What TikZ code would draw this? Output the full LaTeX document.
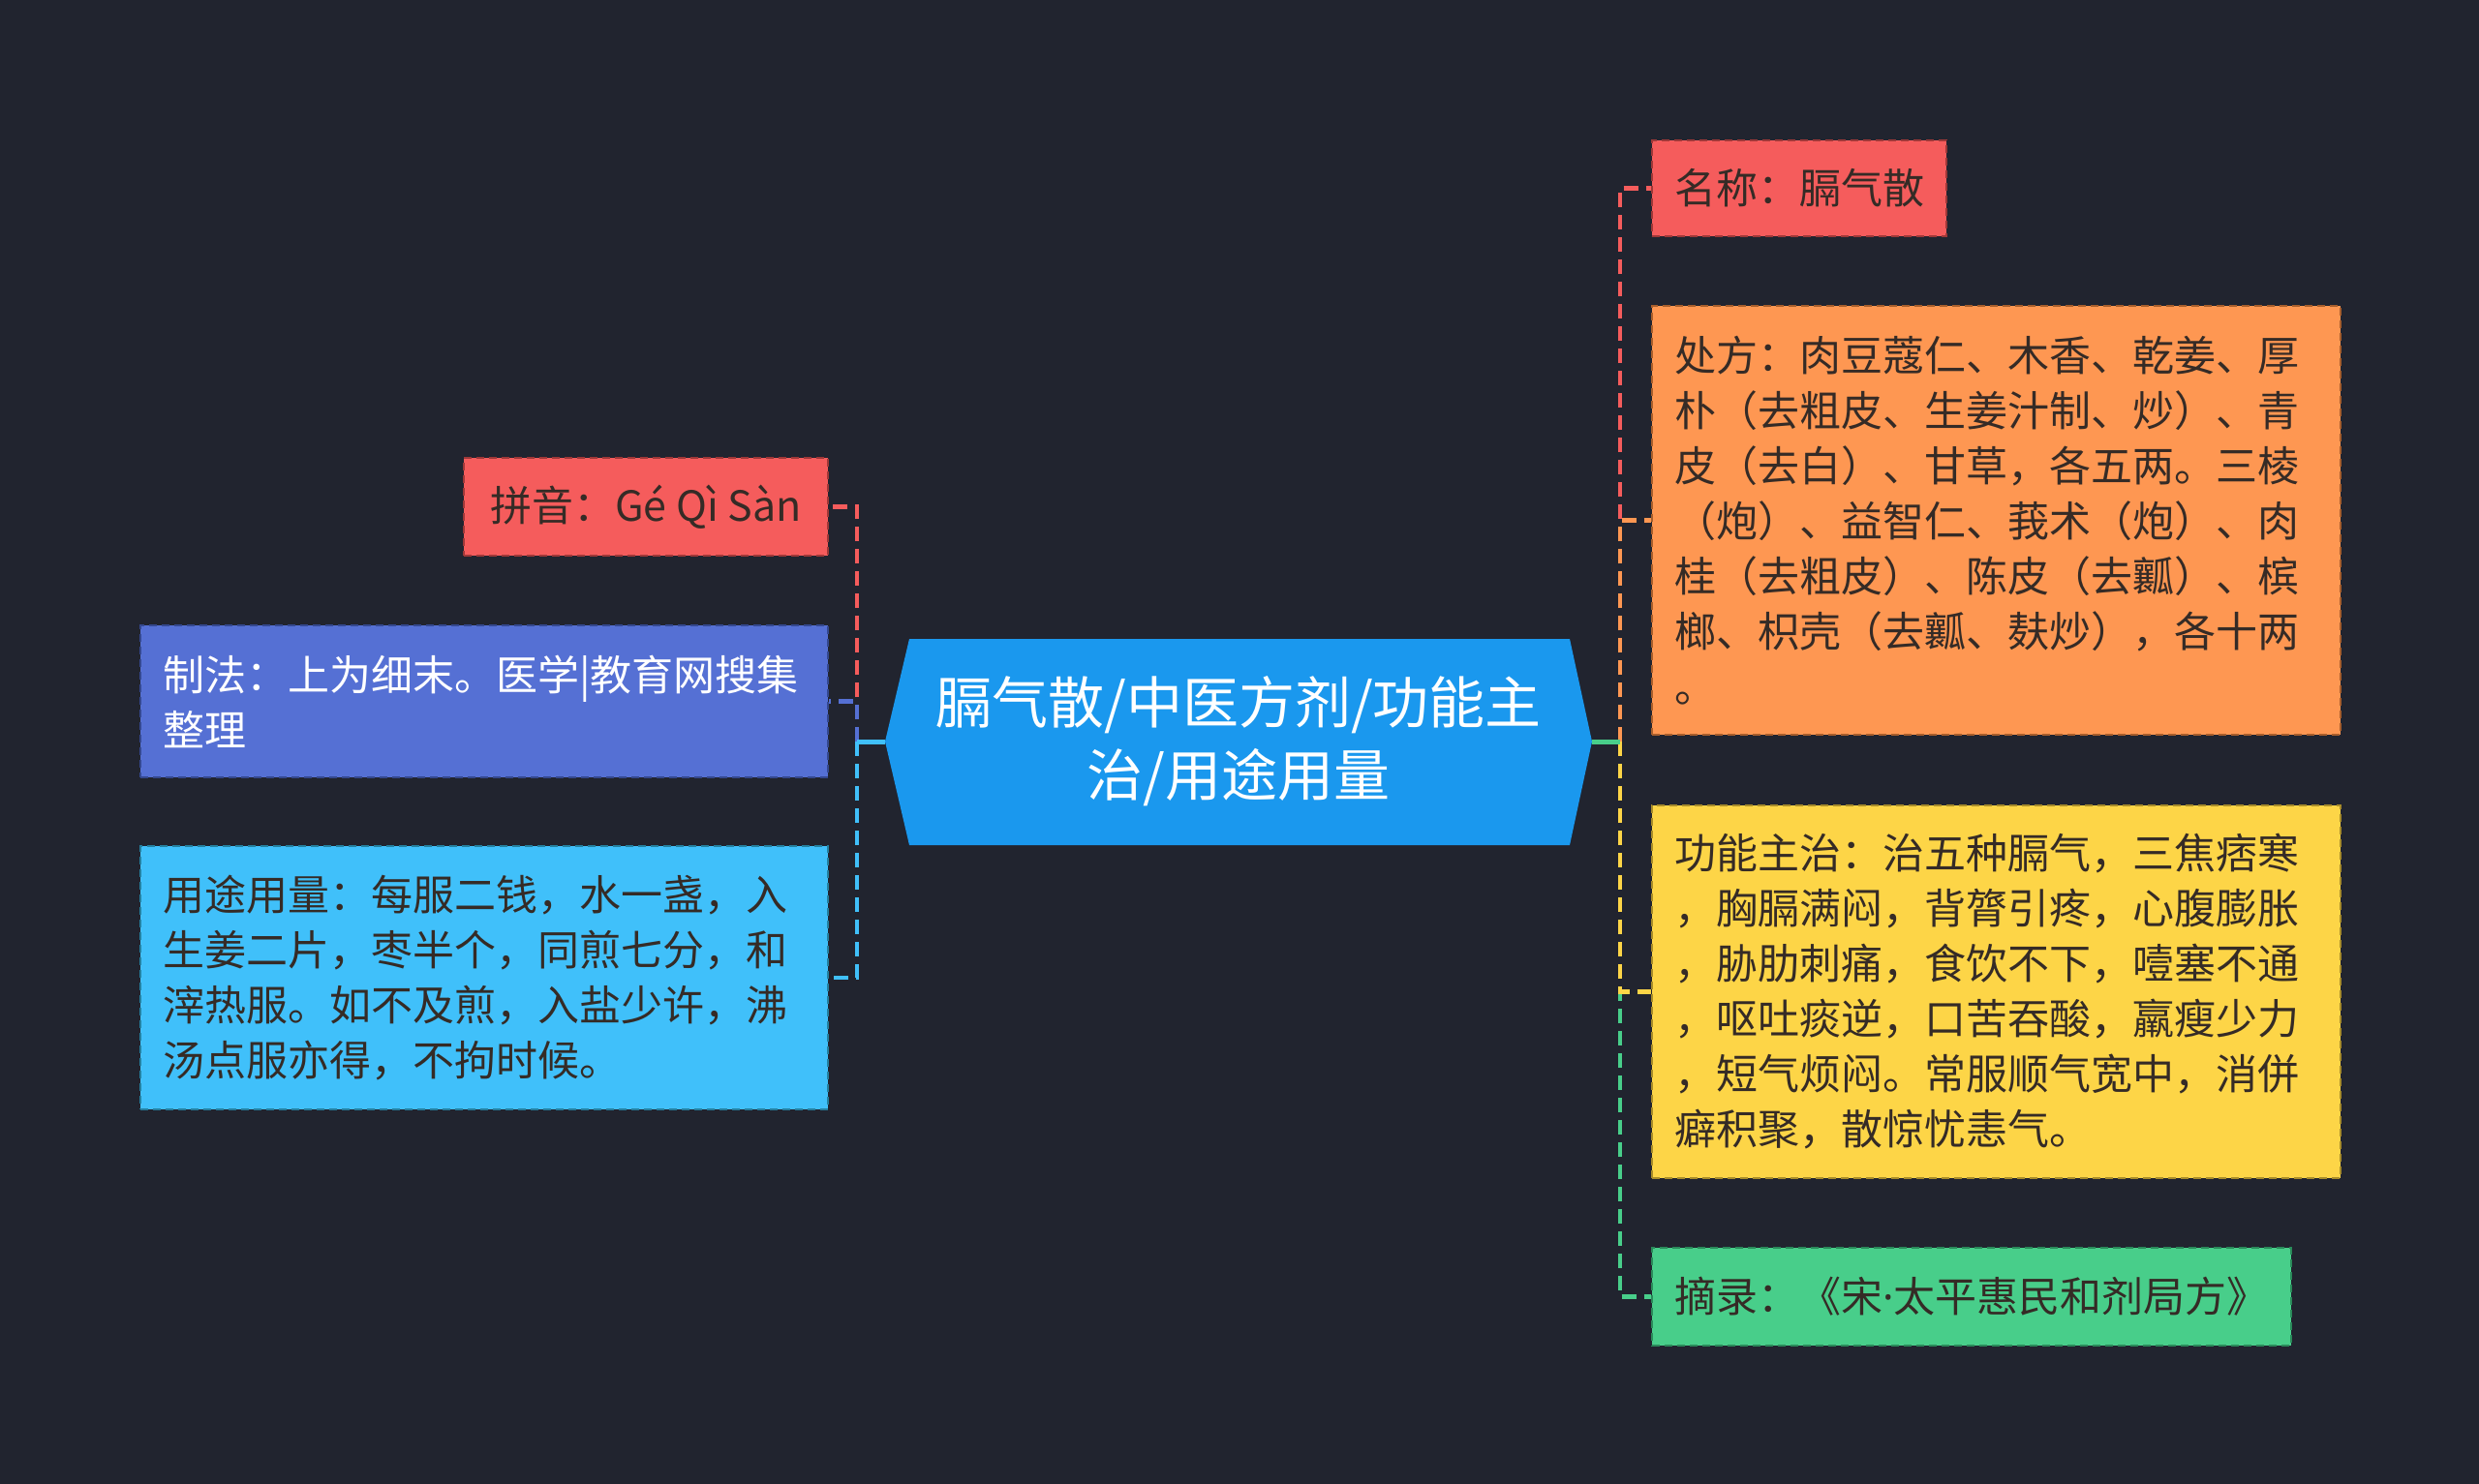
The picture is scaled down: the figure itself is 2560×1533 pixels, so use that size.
\documentclass[tikz,border=0pt]{standalone}
\usepackage{fontspec}
\setmainfont{Noto Sans CJK SC}
\newfontfamily\latinf{Noto Sans}
\definecolor{bg}{HTML}{21242F}
\definecolor{rootc}{HTML}{1A98EE}
\definecolor{redc}{HTML}{F55C5C}
\definecolor{redb}{HTML}{9E3838}
\definecolor{purc}{HTML}{5570D4}
\definecolor{purb}{HTML}{34488F}
\definecolor{lbluec}{HTML}{40C0FA}
\definecolor{lblueb}{HTML}{24809F}
\definecolor{orac}{HTML}{FE9752}
\definecolor{orab}{HTML}{A85E2C}
\definecolor{yelc}{HTML}{FDD547}
\definecolor{yelb}{HTML}{A88C2A}
\definecolor{grnc}{HTML}{48CE8A}
\definecolor{grnb}{HTML}{2A8A5A}
\definecolor{txtc}{HTML}{352B26}
\begin{document}
\begin{tikzpicture}[x=1pt,y=-1pt,
  box/.style={anchor=north west, line width=2pt, dash pattern=on 8pt off 5pt,
    inner xsep=23pt, inner ysep=0pt, font=\fontsize{43}{57}\selectfont, text=txtc},
  multi/.style={align=left},
  single/.style={align=center},
  conn/.style={line width=4.5pt, dash pattern=on 15pt off 8pt},
  link/.style={line width=5pt}
]
\path[fill=bg] (0,0) rectangle (2560,1533);
\useasboundingbox (0,0) rectangle (2560,1533);

% root
\fill[rootc] (914,766) -- (939,660) -- (1621,660) -- (1644,766) -- (1621,873) -- (939,873) -- cycle;
\node[text=white, align=center, font=\fontsize{58}{75}\selectfont] (root) at (1279,766) {膈气散/中医方剂/功能主\\治/用途用量};
\coordinate (rootL) at (914,766);
\coordinate (rootR) at (1644,766);
\coordinate (trunkL) at (885,766);
\coordinate (trunkR) at (1673,766);

% left nodes
\node[box, single, fill=redc, draw=redb, minimum width=376pt, minimum height=101pt] (pinyin) at (478,472) {拼音：Gé Qì Sàn};
\node[box, multi, fill=purc, draw=purb, text=white, text width=664pt, minimum height=157pt] (zhifa) at (144,645) {制法：上为细末。医学|教育网搜集\\整理};
\node[box, multi, fill=lbluec, draw=lblueb, text width=664pt, minimum height=272pt] (yongtu) at (144,873) {用途用量：每服二钱，水一盏，入\\生姜二片，枣半个，同煎七分，和\\滓热服。如不及煎，入盐少许，沸\\汤点服亦得，不拘时候。};

% right nodes
\node[box, single, fill=redc, draw=redb, minimum width=300pt, minimum height=99pt] (mingcheng) at (1705,144) {名称：膈气散};
\node[box, multi, fill=orac, draw=orab, text width=665pt, minimum height=443pt] (chufang) at (1705,315) {处方：肉豆蔻仁、木香、乾姜、厚\\朴（去粗皮、生姜汁制、炒）、青\\皮（去白）、甘草，各五两。三棱\\（炮）、益智仁、莪术（炮）、肉\\桂（去粗皮）、陈皮（去瓤）、槟\\榔、枳壳（去瓤、麸炒），各十两\\。};
\node[box, multi, fill=yelc, draw=yelb, text width=665pt, minimum height=385pt] (gongneng) at (1705,831) {功能主治：治五种膈气，三焦痞寒\\，胸膈满闷，背膂引疼，心腹膨胀\\，胁肋刺痛，食饮不下，噎塞不通\\，呕吐痰逆，口苦吞酸，羸瘦少力\\，短气烦闷。常服顺气宽中，消併\\癖积聚，散惊忧恚气。};
\node[box, single, fill=grnc, draw=grnb, minimum width=656pt, minimum height=101pt] (zhailu) at (1705,1288) {摘录：《宋{\latinf ·}太平惠民和剂局方》};

% connectors left
\draw[conn, redc] (trunkL) |- (pinyin.east);
\draw[conn, lbluec] (trunkL) |- (yongtu.east);
\draw[conn, purc] (trunkL) |- (zhifa.east);
\draw[link, lbluec] (rootL) -- (trunkL);

% connectors right
\draw[conn, redc] (trunkR) |- (mingcheng.west);
\draw[conn, grnc] (trunkR) |- (zhailu.west);
\draw[conn, orac] (trunkR) |- (chufang.west);
\draw[conn, yelc] (trunkR) |- (gongneng.west);
\draw[link, grnc] (rootR) -- (trunkR);
\end{tikzpicture}
\end{document}
